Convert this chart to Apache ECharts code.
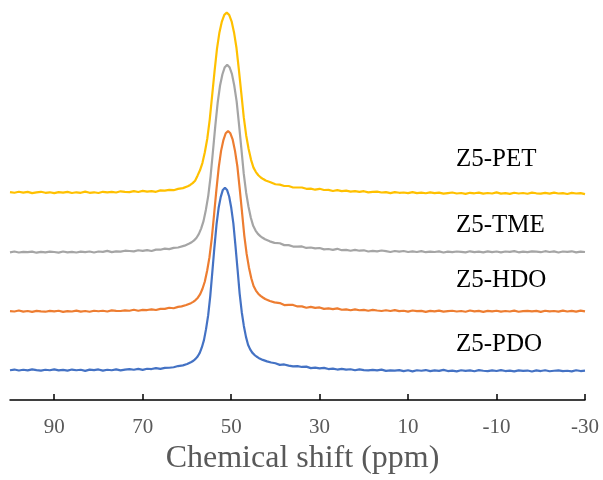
<!DOCTYPE html>
<html>
<head>
<meta charset="utf-8">
<script src="https://cdn.jsdelivr.net/npm/echarts@6/dist/echarts.min.js"></script>
<style>
html,body{margin:0;padding:0;background:#fff;}
#chart{width:603px;height:480px;}
</style>
</head>
<body>
<div id="chart"></div>
<script>
// ---- Data (chemical shift in ppm; intensity in arbitrary stacked units) ----
var tickValues = [90, 70, 50, 30, 10, -10, -30];
var axisTitle = 'Chemical shift (ppm)';
var seriesNames = ['Z5-PET', 'Z5-TME', 'Z5-HDO', 'Z5-PDO'];

// baseline sampling shared by all spectra
var leftTailPpm = [100,99,98,97,96,95,94,93,92,91,90,89,88,87,86,85,84,83,82,81,80,79,78,77,76,75,74,73,72,71,70,69,68,67,66,65,64,63,62];
var rightTailPpm = [39,38,37,36,35,34,33,32,31,30,29,28,27,26,25,24,23,22,21,20,19,18,17,16,15,14,13,12,11,10,9,8,7,6,5,4,3,2,1,0,-1,-2,-3,-4,-5,-6,-7,-8,-9,-10,-11,-12,-13,-14,-15,-16,-17,-18,-19,-20,-21,-22,-23,-24,-25,-26,-27,-28,-29,-30];

// peak-region sampling per spectrum
var petPeakPpm = [60.9,59.8,59.25,58.7,58.15,57.6,57.05,56.5,55.95,55.4,54.85,54.3,53.75,53.2,52.65,52.1,51.55,51.0,50.45,49.9,49.35,48.8,48.25,47.7,47.15,46.6,46.05,45.5,44.95,44.4,43.85,43.3,42.75,42.2,41.1,40.0];
var tmePeakPpm = [61.6,60.53,59.46,58.93,58.39,57.86,57.32,56.79,56.25,55.72,55.18,54.65,54.11,53.58,53.04,52.51,51.97,51.44,50.9,50.37,49.83,49.3,48.76,48.23,47.69,47.16,46.62,46.09,45.55,45.02,44.48,43.95,43.41,42.88,42.34,41.27,40.2];
var hdoPeakPpm = [61.2,60.15,59.1,58.58,58.05,57.53,57.0,56.48,55.95,55.43,54.9,54.38,53.85,53.33,52.8,52.28,51.75,51.23,50.7,50.18,49.65,49.13,48.6,48.08,47.55,47.03,46.5,45.98,45.45,44.93,44.4,43.88,43.35,42.83,42.3,41.25,40.2];
var pdoPeakPpm = [60.9,59.95,59.0,58.53,58.05,57.58,57.1,56.63,56.15,55.68,55.2,54.73,54.25,53.78,53.3,52.83,52.35,51.88,51.4,50.93,50.45,49.98,49.5,49.03,48.55,48.08,47.6,47.13,46.65,46.18,45.7,45.23,44.75,44.28,43.8,42.85,41.9,40.95,40.0];

// intensities: left tail, peak region, right tail (stacked with vertical offsets)
var petLeft = [209.0,208.3,209.3,208.5,209.2,208.0,208.7,209.3,208.3,208.8,207.9,209.0,208.5,209.2,208.1,208.8,208.3,209.5,208.3,208.8,208.1,209.3,208.7,209.3,208.6,209.8,209.3,209.0,210.0,209.1,210.2,209.4,210.0,209.3,210.7,210.5,211.2,210.9,212.2];
var petPeak = [213.0,214.9,216.2,218.0,220.4,225.5,230.9,238.2,249.0,262.6,281.6,306.0,330.5,353.1,369.4,380.3,387.1,389.3,387.1,380.6,369.4,354.0,331.9,308.2,284.3,265.9,252.3,241.4,233.6,229.1,225.9,223.7,222.1,220.6,218.9,216.9];
var petRight = [216.5,215.1,215.1,213.6,213.6,213.6,212.3,212.5,211.4,212.3,211.1,211.2,210.1,210.9,210.0,210.5,209.4,209.9,209.2,209.9,208.7,209.2,209.4,208.6,209.0,208.0,209.0,208.3,208.6,207.9,208.9,207.9,208.5,207.8,208.7,207.9,208.5,207.4,208.0,208.6,207.6,208.1,207.2,208.3,207.8,208.5,207.4,208.1,207.6,208.7,207.5,207.9,207.2,208.3,207.6,208.1,207.3,208.4,207.8,207.4,208.2,207.5,208.5,207.6,207.9,207.1,208.2,207.6,208.0,207.0];

var tmeLeft = [148.4,149.3,148.3,148.9,148.6,149.2,148.1,149.0,148.5,149.1,148.8,148.2,149.3,148.4,148.9,148.3,149.2,148.7,149.3,148.3,149.3,149.0,149.9,148.7,149.5,149.2,150.1,149.8,149.4,150.6,149.9,150.7,149.8,151.2,151.1,152.2,151.7,153.0,153.3];
var tmePeak = [153.9,155.2,157.3,158.6,160.5,162.9,166.7,172.3,179.8,191.1,205.2,224.9,250.3,275.7,299.2,316.1,327.4,334.5,336.8,334.5,327.8,316.1,300.1,277.2,252.6,227.8,208.6,194.5,183.2,175.1,170.4,167.0,164.8,163.1,161.6,159.5,158.0];
var tmeRight = [157.6,155.7,155.7,154.3,154.2,154.4,152.9,153.3,152.4,152.8,151.4,151.8,151.0,152.0,150.6,151.0,150.1,151.0,150.1,150.5,149.3,150.0,149.4,150.3,149.6,148.8,149.8,149.1,149.8,148.8,149.4,148.8,149.7,148.6,149.2,148.8,149.4,148.3,149.2,148.7,149.3,149.0,148.4,149.5,148.6,149.1,148.5,149.4,148.7,149.3,148.4,149.3,148.9,149.7,148.5,149.2,148.7,149.5,149.1,148.6,149.6,148.8,149.4,148.3,149.3,148.9,149.5,148.4,149.2,148.8];

var hdoLeft = [89.4,89.0,90.0,88.9,89.5,88.7,89.7,89.2,88.8,89.6,89.1,89.8,88.6,89.4,89.0,89.9,88.9,89.5,88.8,89.8,89.3,89.8,89.0,90.2,89.7,89.5,90.2,89.8,90.8,89.8,90.6,90.5,91.2,90.5,91.7,91.6,92.8,92.3,93.7];
var hdoPeak = [94.2,95.5,97.4,98.7,100.5,102.9,106.5,111.9,119.2,130.0,143.6,162.6,187.0,211.5,234.1,250.4,261.3,268.1,270.3,268.1,261.6,250.4,235.0,212.9,189.2,165.3,146.9,133.3,122.4,114.6,110.1,106.9,104.7,103.1,101.6,99.6,98.2];
var hdoRight = [97.5,95.5,95.6,95.6,94.1,94.2,92.8,93.6,92.7,93.1,91.7,92.1,91.4,92.2,90.8,91.1,90.3,91.2,90.3,90.7,89.8,90.7,90.0,89.5,90.3,89.5,90.4,89.4,89.8,88.9,90.0,89.4,89.7,88.7,89.7,89.1,89.9,88.9,89.4,89.8,89.0,89.5,88.8,90.0,89.2,89.6,88.7,89.7,89.1,89.8,88.9,89.5,89.0,89.9,88.8,89.4,89.7,89.1,89.6,88.7,89.8,89.2,89.5,88.9,89.9,89.0,89.6,88.9,89.9,89.1];

var pdoLeft = [30.0,30.7,29.7,30.5,29.8,30.9,30.2,29.6,30.5,30.0,30.9,29.8,30.3,29.6,30.7,30.0,30.5,29.4,30.6,30.1,30.8,29.6,30.5,30.0,30.9,29.9,30.6,31.1,30.5,31.3,30.4,31.5,31.2,32.2,31.4,32.4,32.5,33.0,34.2];
var pdoPeak = [34.9,36.2,38.3,39.5,41.4,43.8,47.4,52.9,60.3,71.3,85.1,104.2,129.0,153.8,176.7,193.2,204.2,211.2,213.4,211.2,204.6,193.2,177.6,155.2,131.2,107.0,88.3,74.5,63.5,55.6,51.0,47.7,45.5,43.8,42.4,40.4,38.9,37.8,37.0];
var pdoRight = [35.4,35.8,34.7,33.9,34.2,33.3,33.6,32.1,32.6,31.9,32.4,31.2,31.6,30.7,31.4,30.7,31.0,30.0,30.9,30.2,29.9,30.4,29.8,30.6,29.4,29.9,29.6,30.1,29.1,30.0,28.9,30.0,29.5,30.2,29.1,29.8,29.3,30.4,29.2,29.6,28.9,30.0,29.3,29.8,29.0,30.1,29.5,29.1,29.9,29.2,30.1,29.2,29.6,28.8,29.9,29.3,29.7,28.7,29.8,29.2,30.0,29.0,29.5,29.9,29.1,29.5,28.8,30.0,29.2,29.6];

// ---- Build ----
function pairs(xs, ys) {
  var out = [];
  for (var i = 0; i < xs.length; i++) out.push([xs[i], ys[i]]);
  return out;
}
function spectrum(peakPpm, left, peak, right) {
  return pairs(leftTailPpm.concat(peakPpm, rightTailPpm), left.concat(peak, right));
}
var spectra = [
  spectrum(petPeakPpm, petLeft, petPeak, petRight),
  spectrum(tmePeakPpm, tmeLeft, tmePeak, tmeRight),
  spectrum(hdoPeakPpm, hdoLeft, hdoPeak, hdoRight),
  spectrum(pdoPeakPpm, pdoLeft, pdoPeak, pdoRight)
];
var colors = ['#FFC000', '#A5A5A5', '#ED7D31', '#4472C4'];
var labelY = [159.5, 225, 280.5, 344];

var chart = echarts.init(document.getElementById('chart'), null, {renderer: 'canvas'});
var serif = "'Liberation Serif', 'DejaVu Serif', serif";
var option = {
  animation: false,
  backgroundColor: '#ffffff',
  grid: {left: 10, right: 18, top: 0, bottom: 78},
  xAxis: {
    type: 'value',
    min: -30,
    max: 100,
    inverse: true,
    name: axisTitle,
    nameLocation: 'middle',
    nameGap: 37,
    nameTextStyle: {fontFamily: serif, fontSize: 32, color: '#595959', padding: [0, 0, 0, 10]},
    axisLine: {show: true, onZero: false, lineStyle: {color: '#000000', width: 1.5}},
    axisTick: {show: true, inside: true, length: 6, customValues: tickValues, lineStyle: {color: '#000000', width: 1.5}},
    axisLabel: {show: true, margin: 17, customValues: tickValues, fontFamily: serif, fontSize: 21, color: '#595959'},
    splitLine: {show: false}
  },
  yAxis: {
    type: 'value', min: 0, max: 402, show: false,
    axisLine: {show: false}, axisTick: {show: false}, axisLabel: {show: false}, splitLine: {show: false}
  },
  series: spectra.map(function (d, i) {
    return {
      name: seriesNames[i],
      type: 'line',
      data: d,
      symbol: 'none',
      smooth: false,
      z: 2 + i,
      lineStyle: {color: colors[i], width: 2.2},
      itemStyle: {color: colors[i]}
    };
  }),
  graphic: seriesNames.map(function (n, i) {
    return {
      type: 'text',
      x: 456,
      y: labelY[i],
      style: {text: n, fontFamily: serif, fontSize: 25, fill: '#000000', align: 'left', verticalAlign: 'middle'}
    };
  })
};
chart.setOption(option);
</script>
</body>
</html>
